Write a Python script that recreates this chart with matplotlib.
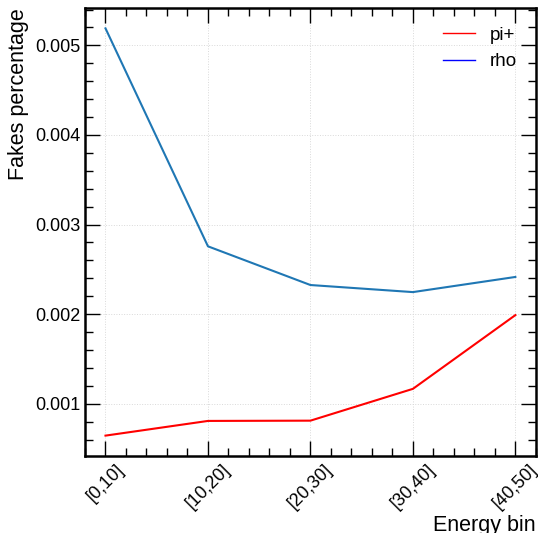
import matplotlib
matplotlib.use("Agg")
import matplotlib.pyplot as plt
from matplotlib.lines import Line2D
from matplotlib.ticker import AutoMinorLocator, MultipleLocator

plt.rcParams['font.family'] = ['Liberation Sans', 'DejaVu Sans']

bins = ["[0,10]", "[10,20]", "[20,30]", "[30,40]", "[40,50]"]
pi_fakes = [0.000644, 0.000808, 0.000811, 0.001166, 0.001989]
rho_fakes = [0.00519, 0.002757, 0.002325, 0.002246, 0.002415]

fig = plt.figure(figsize=(5.38, 5.33), dpi=100)
ax = fig.add_axes([0.158, 0.1445, 0.838, 0.8405])

x = list(range(len(bins)))
ax.plot(x, rho_fakes, color="tab:blue", lw=1.5)
ax.plot(x, pi_fakes, color="red", lw=1.5)

ax.set_xticks(x)
ax.set_xticklabels(bins, rotation=45, ha="center")
ax.yaxis.set_major_locator(MultipleLocator(0.001))
ax.xaxis.set_minor_locator(AutoMinorLocator(5))
ax.yaxis.set_minor_locator(AutoMinorLocator(5))

ax.tick_params(which="both", direction="in", top=True, right=True, labelsize=13)
ax.tick_params(which="major", length=11, width=1)
ax.tick_params(which="minor", length=5.5, width=1)
for s in ax.spines.values():
    s.set_linewidth(1.8)
ax.grid(True, which="major", ls=":", color="#d9d9d9", lw=0.7)

ax.set_xlabel("Energy bin", fontsize=15.5, loc="right", labelpad=2)
ax.set_ylabel("Fakes percentage", fontsize=15.5, loc="top")

handles = [Line2D([0], [0], color="red", lw=1),
           Line2D([0], [0], color="blue", lw=1)]
ax.legend(handles, ["pi+", "rho"], loc="upper right", frameon=False,
          fontsize=13.5, handlelength=1.7, handletextpad=0.8,
          borderaxespad=0.6)

fig.savefig("out.png", dpi=100)
